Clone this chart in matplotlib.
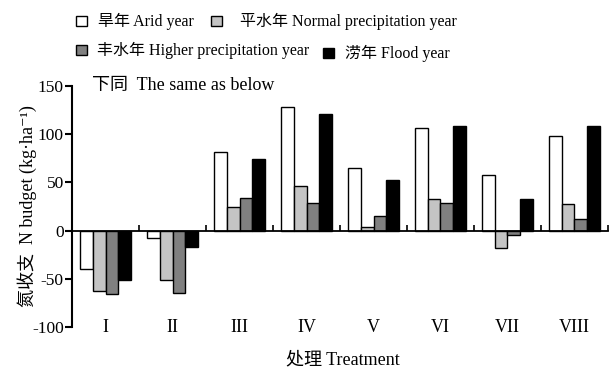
import matplotlib
matplotlib.use("Agg")
import matplotlib.pyplot as plt
from matplotlib.patches import Rectangle
import numpy as np

plt.rcParams['font.family'] = ['Liberation Serif', 'Noto Sans CJK SC', 'DejaVu Sans']

# treatments and N budget per precipitation year type (kg/ha)
treatments = ["I", "II", "III", "IV", "V", "VI", "VII", "VIII"]
series_names = ["旱年 Arid year", "平水年 Normal precipitation year",
                "丰水年 Higher precipitation year", "涝年 Flood year"]
arid = [-40, -8, 81, 128, 65, 106, 58, 98]
normal = [-63, -51, 24, 46, 4, 33, -18, 28]
higher = [-66, -65, 34, 29, 15, 29, -5, 12]
flood = [-51, -17, 74, 121, 52, 108, 33, 108]
colors = ["white", "#c4c4c4", "#808080", "black"]

values = [arid, normal, higher, flood]
x = np.arange(1, len(treatments) + 1)
width = 0.19

fig = plt.figure(figsize=(6.11, 3.70), dpi=100)
ax = fig.add_axes([0.118, 0.116, 0.877, 0.652])

for i, (vals, c) in enumerate(zip(values, colors)):
    ax.bar(x + (i - 1.5) * width, vals, width, color=c, edgecolor='black',
           linewidth=1.0, zorder=2)

ax.set_xlim(0.5, 8.5)
ax.set_ylim(-100, 150)
ax.set_yticks([-100, -50, 0, 50, 100, 150])
ax.set_yticklabels(["-100", "-50", "0", "50", "100", "150"])

ax.spines['top'].set_visible(False)
ax.spines['right'].set_visible(False)
ax.spines['bottom'].set_position(('data', 0))
ax.spines['left'].set_linewidth(1.5)
ax.spines['bottom'].set_linewidth(1.3)

ax.set_xticks(np.arange(1.5, 9.0, 1.0))
ax.set_xticklabels([])
ax.tick_params(axis='x', direction='in', length=4, width=1.2)
ax.tick_params(axis='y', direction='out', length=5, width=1.5,
               labelsize=12.5, pad=1)

for xi, lab in zip(x, treatments):
    ax.text(xi, -100, lab, ha='center', va='center', fontsize=13)

ax.text(0.79, 150, "下同  The same as below", ha='left', va='center',
        fontsize=13)

ax.set_ylabel("氮收支  N budget (kg·ha⁻¹)", fontsize=13)
ax.yaxis.set_label_coords(-0.066, 0.5)
fig.text(0.561, 0.027, "处理 Treatment", ha='center', va='center', fontsize=13)

# legend in two rows
legend_pos = [(76, 21), (211, 21), (76, 50), (323, 53)]
text_pos = [(98, 21), (240, 21), (97, 50), (345, 53)]
W, H = 611, 370
for name, c, (bx, by), (tx, ty) in zip(series_names, colors, legend_pos, text_pos):
    fig.patches.append(Rectangle((bx / W, 1 - (by + 5) / H), 11 / W, 10 / H,
                                 facecolor=c, edgecolor='black', linewidth=1.0,
                                 transform=fig.transFigure, figure=fig))
    fig.text(tx / W, 1 - ty / H, name, ha='left', va='center', fontsize=11.5)

fig.savefig("out.png", dpi=100)
